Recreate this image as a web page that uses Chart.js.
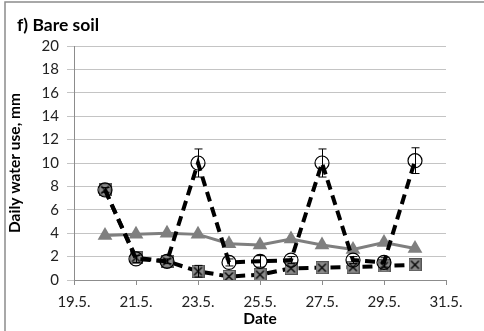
<!DOCTYPE html>
<html>
<head>
<meta charset="utf-8">
<script src="https://cdn.jsdelivr.net/npm/chart.js@4.4.0/dist/chart.umd.min.js"></script>
<style>
html, body { margin: 0; padding: 0; background: #fff; }
#wrap { width: 484px; height: 331px; }
</style>
</head>
<body>
<div id="wrap"><canvas id="myChartSoil" width="484" height="331"></canvas></div>
<script>
var dates = [20.5, 21.5, 22.5, 23.5, 24.5, 25.5, 26.5, 27.5, 28.5, 29.5, 30.5];
var xTicks = [19.5, 21.5, 23.5, 25.5, 27.5, 29.5, 31.5];
var yTicks = [0, 2, 4, 6, 8, 10, 12, 14, 16, 18, 20];

var circleUse = [7.7, 1.8, 1.6, 10.0, 1.5, 1.6, 1.7, 10.0, 1.7, 1.5, 10.2];
var circleErr = [0.2, 0.3, 0.2, 1.2, 0.3, 0.5, 0.3, 1.2, 0.3, 0.4, 1.1];
var squareUse = [7.7, 1.9, 1.6, 0.75, 0.3, 0.45, 1.0, 1.05, 1.1, 1.2, 1.3];
var squareErr = [0, 0, 0, 0.5, 0, 0, 0, 0, 0, 0, 0];
var triangleUse = [3.8, 3.9, 4.0, 3.9, 3.1, 3.0, 3.5, 3.0, 2.6, 3.2, 2.7];

var fontName = 'Lato, "Liberation Sans", sans-serif';

function toPoints(vals) {
    var pts = [];
    for (var i = 0; i < dates.length; i++) {
        pts.push({ x: dates[i], y: vals[i] });
    }
    return pts;
}

function makeSquareX() {
    var c = document.createElement('canvas');
    c.width = 13; c.height = 13;
    var g = c.getContext('2d');
    g.fillStyle = '#8a8a8a';
    g.fillRect(0, 0, 13, 13);
    g.strokeStyle = '#555';
    g.lineWidth = 1;
    g.strokeRect(0.5, 0.5, 12, 12);
    g.strokeStyle = '#000';
    g.lineWidth = 1.3;
    g.beginPath();
    g.moveTo(2.5, 2.5); g.lineTo(10.5, 10.5);
    g.moveTo(10.5, 2.5); g.lineTo(2.5, 10.5);
    g.stroke();
    return c;
}

// frame + panel title
var decorPlugin = {
    id: 'decor',
    beforeDraw: function (chart) {
        var ctx = chart.ctx;
        ctx.save();
        ctx.fillStyle = '#fff';
        ctx.fillRect(0, 0, chart.width, chart.height);
        ctx.strokeStyle = '#8c8c8c';
        ctx.lineWidth = 1.5;
        ctx.strokeRect(5, 2, 600, 600);
        ctx.restore();
    },
    afterDraw: function (chart) {
        var ctx = chart.ctx;
        ctx.save();
        ctx.fillStyle = '#000';
        ctx.font = 'bold 17.5px ' + fontName;
        ctx.textBaseline = 'middle';
        ctx.textAlign = 'left';
        ctx.fillText('f) Bare soil', 17, 25);
        ctx.restore();
    }
};

// error bars drawn from the y scale
var errorPlugin = {
    id: 'errbars',
    afterDatasetsDraw: function (chart) {
        var ctx = chart.ctx;
        var xs = chart.scales.x, ys = chart.scales.y;
        ctx.save();
        ctx.strokeStyle = '#000';
        ctx.lineWidth = 1;
        chart.data.datasets.forEach(function (ds) {
            if (!ds.errors) return;
            for (var i = 0; i < dates.length; i++) {
                var e = ds.errors[i];
                if (!e) continue;
                var v = ds.data[i].y;
                var px = Math.round(xs.getPixelForValue(dates[i])) + 0.5;
                var top = ys.getPixelForValue(v + e);
                var bot = ys.getPixelForValue(Math.max(v - e, 0));
                ctx.beginPath();
                ctx.moveTo(px, top); ctx.lineTo(px, bot);
                ctx.moveTo(px - 4, top); ctx.lineTo(px + 4, top);
                ctx.moveTo(px - 4, bot); ctx.lineTo(px + 4, bot);
                ctx.stroke();
            }
        });
        ctx.restore();
    }
};

const ctx = document.getElementById('myChartSoil');
const myChart = new Chart(ctx, {
    type: 'line',
    data: {
        datasets: [{
            label: 'Circles',
            data: toPoints(circleUse),
            errors: circleErr,
            borderColor: '#000',
            borderWidth: 4,
            borderDash: [10, 6],
            pointStyle: 'circle',
            pointRadius: 7,
            pointBorderWidth: 1.2,
            pointBorderColor: '#000',
            pointBackgroundColor: 'rgba(0,0,0,0)',
            tension: 0
        }, {
            label: 'Squares',
            data: toPoints(squareUse),
            errors: squareErr,
            borderColor: '#000',
            borderWidth: 4,
            borderDash: [10, 6],
            pointStyle: makeSquareX(),
            pointRadius: 6,
            tension: 0
        }, {
            label: 'Triangles',
            data: toPoints(triangleUse),
            borderColor: '#7f7f7f',
            borderWidth: 3,
            pointStyle: 'triangle',
            pointRadius: 8.5,
            pointBorderWidth: 0,
            pointBackgroundColor: '#7f7f7f',
            tension: 0
        }]
    },
    options: {
        responsive: false,
        animation: false,
        devicePixelRatio: 1,
        layout: { padding: { top: 46, right: 38, bottom: 0, left: 0 } },
        plugins: {
            legend: { display: false },
            tooltip: { enabled: false }
        },
        scales: {
            x: {
                type: 'linear',
                min: 19.5,
                max: 31.5,
                afterBuildTicks: function (scale) {
                    scale.ticks = xTicks.map(function (v) { return { value: v }; });
                },
                afterFit: function (scale) { scale.height = 51; },
                grid: { drawOnChartArea: false, drawTicks: true, tickLength: 5, color: '#8c8c8c' },
                border: { color: '#8c8c8c' },
                ticks: {
                    color: '#222',
                    font: { family: fontName, size: 15 },
                    padding: 8,
                    maxRotation: 0,
                    callback: function (value) { return value.toFixed(1) + '.'; }
                },
                title: {
                    display: true,
                    text: 'Date',
                    color: '#000',
                    font: { family: fontName, size: 15.5, weight: 'bold' },
                    padding: { top: 0, bottom: 3 }
                }
            },
            y: {
                min: 0,
                max: 20,
                afterBuildTicks: function (scale) {
                    scale.ticks = yTicks.map(function (v) { return { value: v }; });
                },
                afterFit: function (scale) { scale.width = 74; },
                grid: { color: '#c4c4c4', tickLength: 7 },
                border: { color: '#8c8c8c' },
                ticks: {
                    color: '#222',
                    font: { family: fontName, size: 15 },
                    padding: 8
                },
                title: {
                    display: true,
                    text: 'Daily water use, mm',
                    color: '#000',
                    font: { family: fontName, size: 15.5, weight: 'bold' },
                    padding: { top: 6, bottom: 0 }
                }
            }
        }
    },
    plugins: [decorPlugin, errorPlugin]
});
</script>
</body>
</html>
